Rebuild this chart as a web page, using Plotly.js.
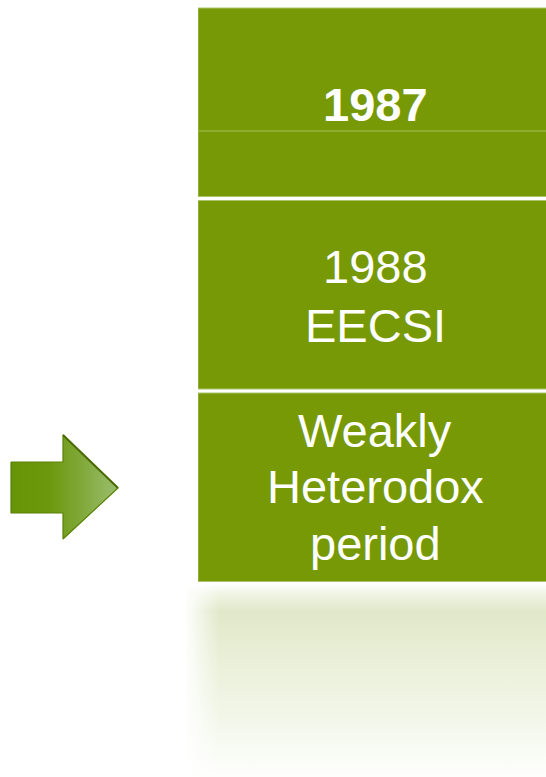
<!DOCTYPE html>
<html>
<head>
<meta charset="utf-8">
<script src="https://cdn.plot.ly/plotly-3.0.1.min.js"></script>
<style>
html,body{margin:0;padding:0;background:#fff;}
#chart{width:546px;height:777px;}
</style>
</head>
<body>
<div id="chart"></div>
<script>
// ---- data ----
var stageNames = ["1987", "1988 EECSI", "Weakly Heterodox period"];
var stageLines = [["1987"], ["1988", "EECSI"], ["Weakly", "Heterodox", "period"]];
var stageBold = [true, false, false];
var stageSpan = [1, 1, 1];

// ---- layout config (pixel canvas 546 x 777) ----
var W = 546, H = 777;
var boxLeft = 198;
var slotTop = 6, slotPitch = 192.5;
var textX = 375;
var lineBaselines = [[121], [283, 342], [447, 503, 560]];
var fontSize = 47;
var green = '#779905';

var bars = {
  type: 'bar', orientation: 'h',
  y: stageNames, x: stageSpan,
  xaxis: 'x', yaxis: 'y',
  marker: {color: green, line: {color: '#a9c46a', width: 1}},
  hoverinfo: 'skip', showlegend: false
};

// reflection below the boxes
var refl = {
  type: 'scatter', mode: 'none', xaxis: 'x2', yaxis: 'y2',
  x: [186, 546, 546, 186, 186], y: [584, 584, 777, 777, 584],
  fill: 'toself',
  fillgradient: {type: 'vertical', start: 584, stop: 777,
    colorscale: [[0, 'rgb(255,255,255)'], [0.05, 'rgb(240,245,228)'], [0.14, 'rgb(224,232,201)'], [0.4, 'rgb(233,240,216)'], [0.72, 'rgb(243,247,235)'], [1, 'rgb(254,255,252)']]},
  hoverinfo: 'skip', showlegend: false
};
var reflEdge = {
  type: 'scatter', mode: 'none', xaxis: 'x2', yaxis: 'y2',
  x: [184, 220, 220, 184, 184], y: [584, 584, 777, 777, 584],
  fill: 'toself',
  fillgradient: {type: 'horizontal', start: 184, stop: 220,
    colorscale: [[0, 'rgba(255,255,255,1)'], [1, 'rgba(255,255,255,0)']]},
  hoverinfo: 'skip', showlegend: false
};

// arrow
var arrowX = [11, 63, 63, 118, 63, 63, 11, 11];
var arrowY = [462, 462, 435, 488, 539, 513, 513, 462];
var arrow = {
  type: 'scatter', mode: 'lines', xaxis: 'x2', yaxis: 'y2',
  x: arrowX, y: arrowY, fill: 'toself',
  line: {color: '#5a8205', width: 1.2},
  fillgradient: {type: 'horizontal', start: 11, stop: 118,
    colorscale: [[0, '#679306'], [0.35, '#6c980d'], [0.65, '#7fa838'], [0.9, '#93b860'], [1, '#98bb66']]},
  hoverinfo: 'skip', showlegend: false
};
var arrowShadow = {
  type: 'scatter', mode: 'lines', xaxis: 'x2', yaxis: 'y2',
  x: [63, 118], y: [435, 488],
  line: {color: '#4a6c02', width: 2},
  hoverinfo: 'skip', showlegend: false
};

var annotations = [];
stageLines.forEach(function (lines, i) {
  lines.forEach(function (t, j) {
    annotations.push({
      xref: 'x2', yref: 'y2', x: textX, y: lineBaselines[i][j] - 0.3465 * fontSize,
      xanchor: 'center', yanchor: 'middle', showarrow: false,
      text: stageBold[i] ? '<b>' + t + '</b>' : t,
      font: {family: 'Liberation Sans, Arial, sans-serif', size: fontSize, color: '#ffffff'}
    });
  });
});

var layout = {
  width: W, height: H,
  margin: {l: 0, r: 0, t: 0, b: 0},
  paper_bgcolor: '#ffffff', plot_bgcolor: 'rgba(0,0,0,0)',
  showlegend: false,
  bargap: 4 / slotPitch,
  xaxis: {domain: [boxLeft / W, 1], range: [0, 0.98], visible: false, fixedrange: true},
  yaxis: {domain: [(H - (slotTop + 3 * slotPitch)) / H, (H - slotTop) / H], type: 'category',
          range: [2.5, -0.5], visible: false, fixedrange: true},
  xaxis2: {domain: [0, 1], range: [0, W], visible: false, anchor: 'y2', fixedrange: true},
  yaxis2: {domain: [0, 1], range: [H, 0], visible: false, anchor: 'x2', fixedrange: true},
  shapes: [{type: 'line', xref: 'x2', yref: 'y2', x0: boxLeft + 1, x1: W, y0: 131, y1: 131,
            line: {color: '#a3bf5c', width: 1}}],
  annotations: annotations
};

Plotly.newPlot('chart', [bars, refl, reflEdge, arrow, arrowShadow], layout, {displayModeBar: false, staticPlot: true});
</script>
</body>
</html>
